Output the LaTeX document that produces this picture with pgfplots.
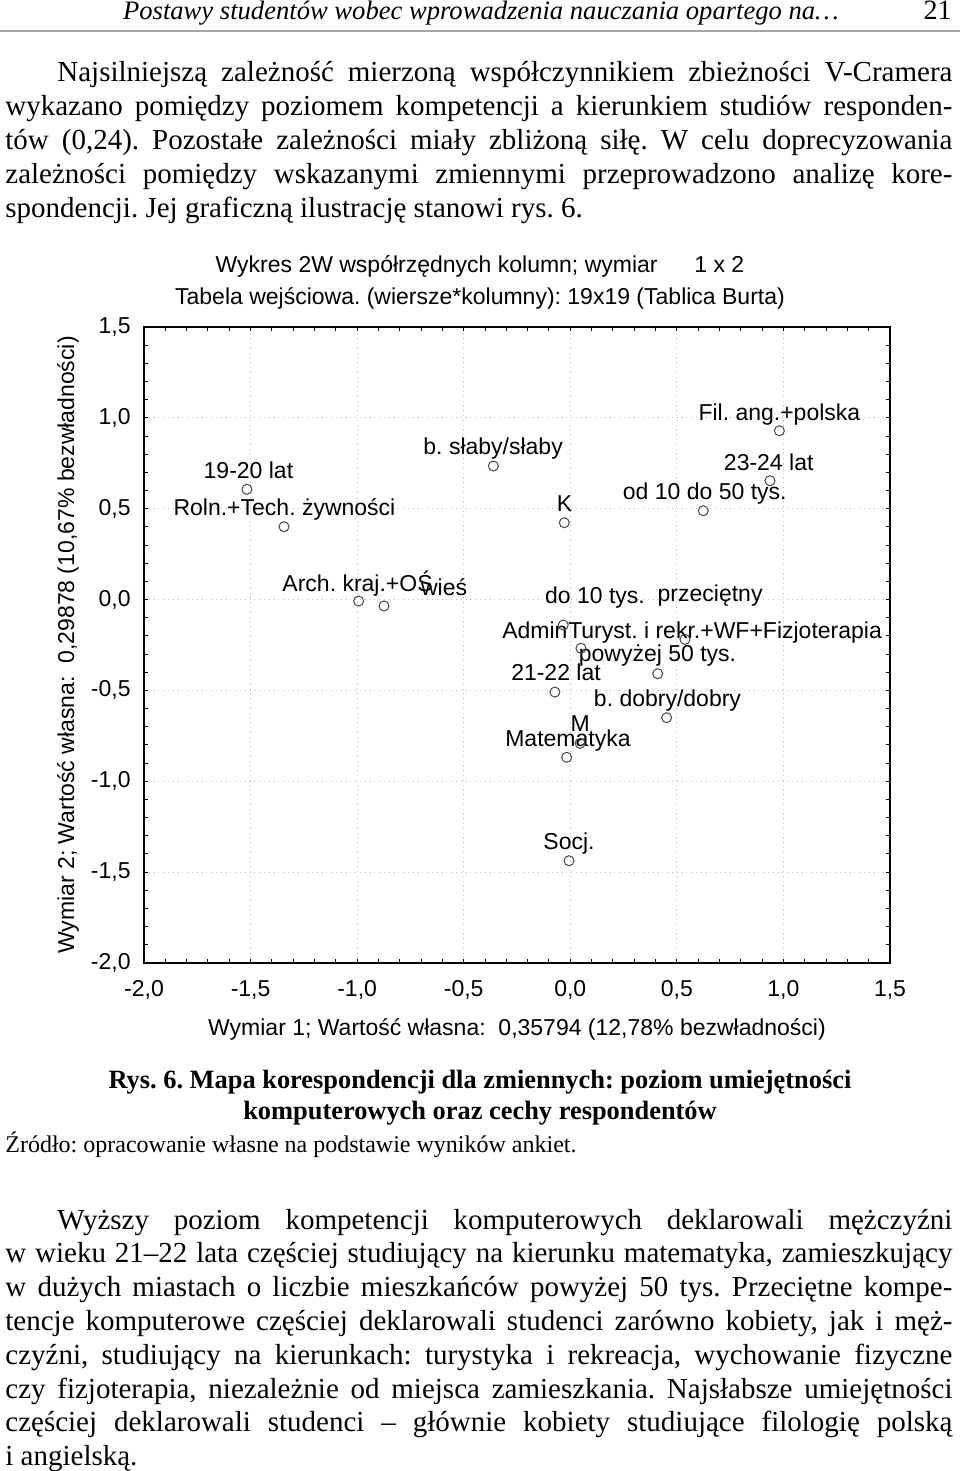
\documentclass[border=0pt]{standalone}
\usepackage{fontspec}
\setmainfont{Liberation Serif}
\newfontfamily\arial{Liberation Sans}
\usepackage{pgfplots}
\pgfplotsset{compat=1.18}
\frenchspacing
\newcommand\bodyfont{\fontsize{14.5}{17}\selectfont}
\newcommand\chartfont{\arial\fontsize{11.5}{13}\selectfont}
\newcommand{\jl}[4]{\node[anchor=base west,inner sep=0pt] at (#1,#2) {\bodyfont\makebox[#3][s]{#4}};}
\tikzset{lbl/.style={anchor=base, inner sep=0pt, font=\chartfont}}
\begin{document}
\begin{tikzpicture}
\path[use as bounding box] (0,0) rectangle (480pt,-735.5pt);
\begin{scope}[x=0.5pt,y=-0.5pt]
\node[anchor=base,inner sep=0pt] at (481,20) {\fontsize{13.3}{16}\selectfont\itshape Postawy studentów wobec wprowadzenia nauczania opartego na\dots};
\node[anchor=base east,inner sep=0pt] at (952,20) {\fontsize{14}{16}\selectfont 21};
\draw[gray!70,line width=0.8pt] (0,31) -- (960,31);
\jl{57}{82}{447.5pt}{Najsilniejszą zależność mierzoną współczynnikiem zbieżności V-Cramera}
\jl{5}{116}{473.5pt}{wykazano pomiędzy poziomem kompetencji a kierunkiem studiów responden-}
\jl{5}{150}{473.5pt}{tów (0,24). Pozostałe zależności miały zbliżoną siłę. W celu doprecyzowania}
\jl{5}{184}{473.5pt}{zależności pomiędzy wskazanymi zmiennymi przeprowadzono analizę kore-}
\node[anchor=base west,inner sep=0pt] at (5,218) {\bodyfont spondencji. Jej graficzną ilustrację stanowi rys. 6.};
\node[anchor=base,inner sep=0pt] at (480,1088) {\bfseries\fontsize{13.2}{16}\selectfont Rys. 6. Mapa korespondencji dla zmiennych: poziom umiejętności};
\node[anchor=base,inner sep=0pt] at (480,1119) {\bfseries\fontsize{13.2}{16}\selectfont komputerowych oraz cechy respondentów};
\node[anchor=base west,inner sep=0pt] at (5,1152) {\fontsize{12}{14}\selectfont Źródło: opracowanie własne na podstawie wyników ankiet.};
\jl{57}{1229}{447.5pt}{Wyższy poziom kompetencji komputerowych deklarowali mężczyźni}
\jl{5}{1262}{473.5pt}{w wieku 21–22 lata częściej studiujący na kierunku matematyka, zamieszkujący}
\jl{5}{1296}{473.5pt}{w dużych miastach o liczbie mieszkańców powyżej 50 tys. Przeciętne kompe-}
\jl{5}{1330}{473.5pt}{tencje komputerowe częściej deklarowali studenci zarówno kobiety, jak i męż-}
\jl{5}{1364}{473.5pt}{czyźni, studiujący na kierunkach: turystyka i rekreacja, wychowanie fizyczne}
\jl{5}{1398}{473.5pt}{czy fizjoterapia, niezależnie od miejsca zamieszkania. Najsłabsze umiejętności}
\jl{5}{1431}{473.5pt}{częściej deklarowali studenci – głównie kobiety studiujące filologię polską}
\node[anchor=base west,inner sep=0pt] at (5,1465) {\bodyfont i angielską.};
\end{scope}
\begin{axis}[
  at={(72pt,-163.5pt)}, anchor=north west,
  scale only axis, width=373pt, height=318pt,
  xmin=-2, xmax=1.5, ymin=-2, ymax=1.5,
  xtick={-2,-1.5,...,1.5}, ytick={-2,-1.5,...,1.5},
  minor tick num=4,
  tick align=inside,
  major tick length=2pt, minor tick length=1.8pt,
  tick style={black, line width=0.5pt},
  axis line style={black, line width=0.8pt},
  grid=major,
  major grid style={gray!55, dotted, line width=0.5pt},
  /pgf/number format/use comma,
  /pgf/number format/fixed,
  /pgf/number format/fixed zerofill,
  /pgf/number format/precision=1,
  /pgf/number format/assume math mode=true,
  tick label style={font=\chartfont},
  xticklabel style={anchor=base, yshift=-16.5pt},
  yticklabel style={anchor=east, inner sep=0pt, xshift=-6.5pt},
  xlabel={Wymiar 1; Wartość własna:\ \ 0,35794 (12,78\% bezwładności)},
  xlabel style={at={(axis description cs:0.5,-0.1132)}, anchor=base, inner sep=0pt, font=\chartfont},
  ylabel={Wymiar 2; Wartość własna:\ \ 0,29878 (10,67\% bezwładności)},
  ylabel style={at={(axis description cs:-0.1019,0.5)}, anchor=center, inner sep=0pt, font=\chartfont},
  clip=false,
]
\node[lbl] at (axis description cs:0.4504,1) [yshift=27.5pt] {Wykres 2W współrzędnych kolumn; wymiar\hspace{1.6em}1 x 2};
\node[lbl] at (axis description cs:0.4504,1) [yshift=11.5pt] {Tabela wejściowa. (wiersze*kolumny): 19x19 (Tablica Burta)};
\addplot[only marks, mark=o, mark size=2.5pt, mark options={draw=gray!55!black, line width=0.5pt}] table {
x y
-1.517 0.607
-1.343 0.401
-0.993 -0.008
-0.874 -0.035
-0.361 0.735
-0.028 0.423
0.624 0.489
0.937 0.654
0.981 0.929
-0.033 -0.140
0.050 -0.268
0.538 -0.219
0.410 -0.408
-0.072 -0.509
0.452 -0.650
0.046 -0.791
-0.017 -0.868
-0.006 -1.437
};
\node[lbl] at (axis cs:-1.510,0.669) {19-20 lat};
\node[lbl] at (axis cs:-1.341,0.465) {Roln.+Tech. żywności};
\node[lbl] at (axis cs:-0.998,0.047) {Arch. kraj.+OŚ};
\node[lbl] at (axis cs:-0.592,0.025) {wieś};
\node[lbl] at (axis cs:-0.362,0.796) {b. słaby/słaby};
\node[lbl] at (axis cs:-0.027,0.484) {K};
\node[lbl] at (axis cs:0.981,0.988) {Fil. ang.+polska};
\node[lbl] at (axis cs:0.931,0.713) {23-24 lat};
\node[lbl] at (axis cs:0.631,0.548) {od 10 do 50 tys.};
\node[lbl] at (axis cs:0.116,-0.021) {do 10 tys.};
\node[lbl] at (axis cs:0.656,-0.012) {przeciętny};
\node[lbl] at (axis cs:-0.166,-0.213) {Admin};
\node[lbl] at (axis cs:0.726,-0.212) {Turyst. i rekr.+WF+Fizjoterapia};
\node[lbl] at (axis cs:0.409,-0.342) {powyżej 50 tys.};
\node[lbl] at (axis cs:-0.067,-0.443) {21-22 lat};
\node[lbl] at (axis cs:0.456,-0.590) {b. dobry/dobry};
\node[lbl] at (axis cs:0.046,-0.727) {M};
\node[lbl] at (axis cs:-0.011,-0.810) {Matematyka};
\node[lbl] at (axis cs:-0.006,-1.378) {Socj.};
\end{axis}
\end{tikzpicture}
\end{document}
